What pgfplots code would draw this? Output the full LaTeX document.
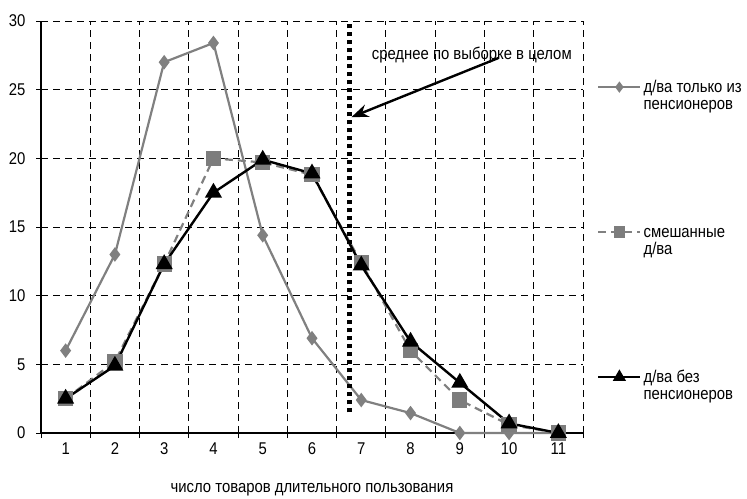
\documentclass[border=0pt]{standalone}
\usepackage{fontspec}
\setmainfont{Liberation Sans}[FakeStretch=0.875]
\usepackage{pgfplots}
\pgfplotsset{compat=1.18}
\usetikzlibrary{arrows.meta}
\definecolor{sgray}{RGB}{128,128,128}
\definecolor{sqgray}{RGB}{125,125,125}
\pgfplotsset{longlegend/.style={legend image code/.code={\draw[mark repeat=2,mark phase=2,##1,every mark/.append style={scale=0.7}] plot coordinates {(0bp,0bp)(21bp,0bp)(42bp,0bp)};}}}

\begin{document}
\begin{tikzpicture}[font=\fontsize{17bp}{16.5bp}\selectfont]
\useasboundingbox (-41bp,-66bp) rectangle (706bp,433bp);
\begin{axis}[
  scale only axis, width=542bp, height=412bp,
  xmin=0.5, xmax=11.5, ymin=0, ymax=30,
  axis lines*=left,
  axis line style={black, line width=1.3bp},
  xtick={0.5,1.5,...,11.5}, xticklabels={},
  extra x ticks={1,2,...,11},
  extra x tick style={grid=none, major tick length=0pt},
  ytick={0,5,...,30},
  tick align=outside,
  major tick length=5bp,
  tick style={black, line width=0.9bp},
  xmajorgrids=true, ymajorgrids=true,
  grid style={black, line width=0.9bp, dash pattern=on 7bp off 5bp},
  /pgf/number format/assume math mode=true,
  tick label style={font=\fontsize{17bp}{16.5bp}\selectfont},
  xticklabel style={yshift=-6bp},
  yticklabel style={xshift=-7bp},
  xlabel={число товаров длительного пользования},
  xlabel style={yshift=-17bp},
  clip=false,
  legend cell align=left,
  legend style={at={(1,1)}, anchor=north west, xshift=14bp, yshift=-57bp,
    draw=none, fill=none, inner sep=0pt, row sep=127.5bp,
    nodes={inner sep=2bp}},
]
\addplot[longlegend, sgray, line width=2.2bp, mark=diamond*, mark size=5.5bp, mark options={solid, fill=sgray}]
  coordinates {(1,6.0)(2,13.0)(3,27.0)(4,28.4)(5,14.4)(6,6.9)(7,2.4)(8,1.45)(9,0)(10,0)(11,0)};
\addlegendentry{\begin{tabular}[t]{@{}l@{}}д/ва только из\\пенсионеров\end{tabular}}
\addplot[longlegend, sgray, line width=2.2bp, dash pattern=on 8bp off 5bp, mark=square*, mark size=6.5bp, mark options={solid, fill=sqgray, draw=sqgray}]
  coordinates {(1,2.5)(2,5.2)(3,12.3)(4,20.0)(5,19.7)(6,18.8)(7,12.4)(8,6.0)(9,2.4)(10,0.6)(11,0)};
\addlegendentry{\begin{tabular}[t]{@{}l@{}}смешанные\\д/ва\end{tabular}}
\addplot[longlegend, black, line width=2.4bp, mark=triangle*, mark size=7.5bp, mark options={solid, fill=black}]
  coordinates {(1,2.5)(2,4.9)(3,12.3)(4,17.5)(5,19.9)(6,18.9)(7,12.2)(8,6.65)(9,3.66)(10,0.7)(11,0)};
\addlegendentry{\begin{tabular}[t]{@{}l@{}}д/ва без\\пенсионеров\end{tabular}}
\addplot[black, line width=4.5bp, dash pattern=on 4.5bp off 3.5bp, forget plot]
  coordinates {(6.757,1.5)(6.757,29.8)};
\node[anchor=base west, inner sep=0pt] at (axis cs:7.21,27.17) {среднее по выборке в целом};
\draw[black, line width=2.4bp, -{Stealth[length=17bp,width=13bp]}] (axis cs:9.78,27.3) -- (axis cs:6.8,23.0);
\end{axis}
\end{tikzpicture}
\end{document}
